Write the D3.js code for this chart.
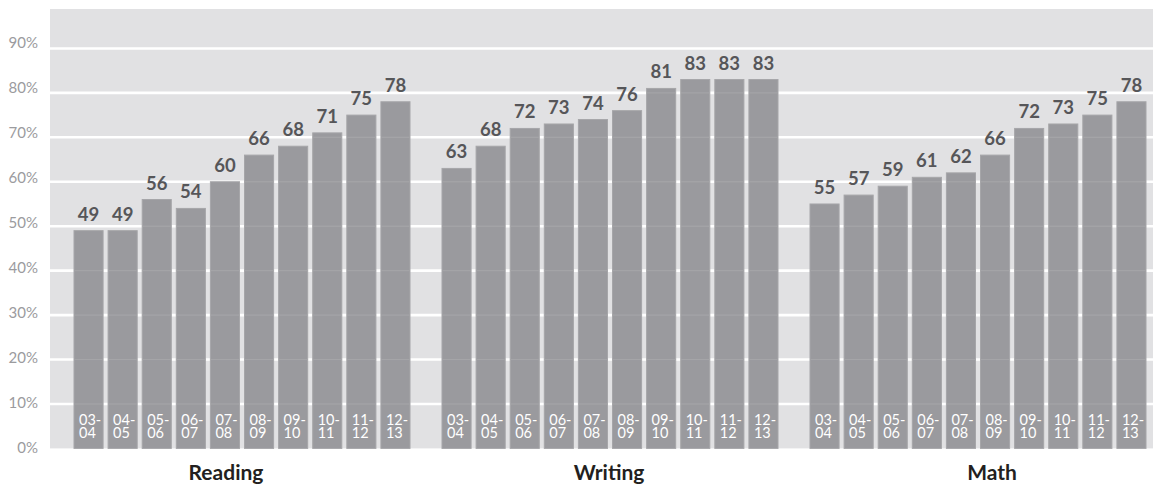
<!DOCTYPE html>
<html>
<head>
<meta charset="utf-8">
<script src="https://cdn.jsdelivr.net/npm/d3@7"></script>
<style>
body { margin: 0; background: #fff; }
svg { display: block; font-family: Lato, "Open Sans", sans-serif; }
</style>
</head>
<body>
<svg id="view" width="1153" height="486"></svg>
<script>
var subjects = ['Reading', 'Writing', 'Math'];
var years = ['03-04', '04-05', '05-06', '06-07', '07-08', '08-09', '09-10', '10-11', '11-12', '12-13'];
var reading = [49, 49, 56, 54, 60, 66, 68, 71, 75, 78];
var writing = [63, 68, 72, 73, 74, 76, 81, 83, 83, 83];
var math = [55, 57, 59, 61, 62, 66, 72, 73, 75, 78];
var yTicks = [0, 10, 20, 30, 40, 50, 60, 70, 80, 90];

const BAR = '#9a9a9e', BG = '#e1e1e3', LABEL = '#565659';
var series = {Reading: reading, Writing: writing, Math: math};

var view = d3.select('#view');

var y = d3.scaleLinear().domain([0, 100]).range([448.4, 4]);
var x0 = d3.scaleBand().domain(subjects).range([74, 74 + 3 * 368]);
var x1 = d3.scaleBand().domain(years).range([0, 336]).paddingInner(0.147);
var xl = d3.scalePoint().domain(subjects).range([226, 992]);

// plot background
view.append('rect')
    .attr('x', 50).attr('y', 9)
    .attr('width', 1153 - 50).attr('height', y(0) - 9)
    .attr('fill', BG);

// white grid lines under the bars
view.append('g').selectAll('line').data(yTicks.slice(1)).join('line')
    .attr('x1', 50).attr('x2', 1153)
    .attr('y1', d => y(d)).attr('y2', d => y(d))
    .attr('stroke', '#fff').attr('stroke-width', 2.6);

// y axis labels
var yAxis = d3.axisLeft(y).tickValues(yTicks).tickSize(0).tickPadding(0)
    .tickFormat(d => d + '%');
view.append('g')
    .attr('transform', 'translate(38,0)')
    .call(yAxis)
    .call(g => g.select('.domain').remove())
    .selectAll('text')
    .attr('fill', '#9b9b9e')
    .attr('font-size', 15)
    .attr('font-family', 'Lato, sans-serif')
    .attr('dy', d => (0.3 - d * 0.0037) + 'em');

var groups = view.append('g').selectAll('g').data(subjects).join('g')
    .attr('transform', s => 'translate(' + x0(s) + ',0)');

var cells = groups.selectAll('g.bar')
    .data(s => series[s].map((v, i) => ({year: years[i], value: v})))
    .join('g').attr('class', 'bar');

cells.append('rect')
    .attr('x', d => x1(d.year))
    .attr('y', d => y(d.value))
    .attr('width', x1.bandwidth())
    .attr('height', d => y(0) - y(d.value))
    .attr('fill', BAR)
    .attr('stroke', '#a6a6a9')
    .attr('stroke-width', 1);

// faint grid lines across the bars
cells.each(function(d) {
    d3.select(this).selectAll('line.over')
        .data(yTicks.filter(t => t > 0 && t < d.value))
        .join('line').attr('class', 'over')
        .attr('x1', x1(d.year) + 0.5).attr('x2', x1(d.year) + x1.bandwidth() - 0.5)
        .attr('y1', t => y(t)).attr('y2', t => y(t))
        .attr('stroke', '#a5a5a8').attr('stroke-width', 1.2);
});

// value labels
cells.append('text')
    .attr('x', d => x1(d.year) + x1.bandwidth() / 2)
    .attr('y', d => y(d.value) - 10)
    .attr('text-anchor', 'middle')
    .attr('fill', LABEL)
    .attr('font-size', 18.5)
    .attr('font-weight', 'bold')
    .text(d => d.value);

// year labels inside bars, two lines each
cells.append('text')
    .attr('x', d => x1(d.year) + 5)
    .attr('y', y(0) - 23)
    .attr('fill', '#fff')
    .attr('font-size', 14.5)
    .text(d => d.year.split('-')[0] + '-');
cells.append('text')
    .attr('x', d => x1(d.year) + 5)
    .attr('y', y(0) - 10)
    .attr('fill', '#fff')
    .attr('font-size', 14.5)
    .text(d => d.year.split('-')[1]);

// subject labels
view.append('g').selectAll('text').data(subjects).join('text')
    .attr('x', s => xl(s))
    .attr('y', 480)
    .attr('text-anchor', 'middle')
    .attr('fill', '#231f20')
    .attr('font-size', 21)
    .attr('font-weight', 'bold')
    .text(s => s);
</script>
</body>
</html>
